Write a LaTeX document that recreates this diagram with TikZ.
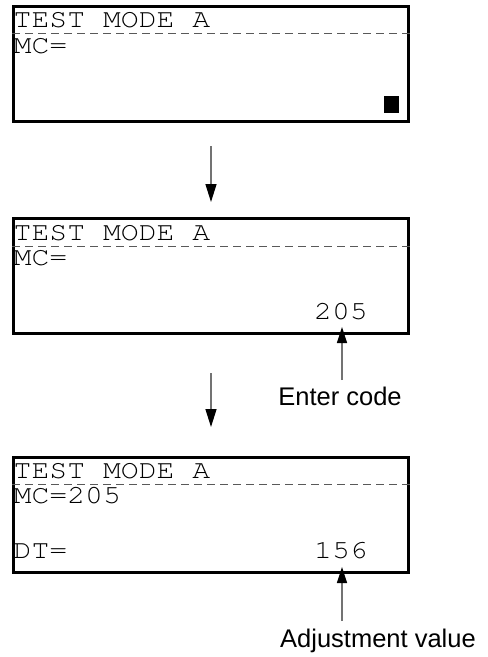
\documentclass[tikz,border=0pt]{standalone}
\usepackage[T1]{fontenc}
\usepackage{fontspec}
\setmainfont{Liberation Sans}
\usetikzlibrary{arrows.meta}
\newcommand{\lcdfnt}{\fontencoding{T1}\fontfamily{pcr}\fontseries{m}\fontshape{n}\fontsize{29.8}{30}\selectfont}
\newcommand{\lcd}[1]{\scalebox{1}[0.88]{\lcdfnt #1}}
\tikzset{
  lcdbox/.style={draw, line width=3pt, minimum width=395pt, minimum height=115pt, inner sep=0pt},
  lcdtxt/.style={inner sep=0pt},
  sep/.style={draw=black!65, line width=1pt, dash pattern=on 8pt off 5pt},
  flow/.style={draw=black!55, line width=1.4pt, -{Triangle[length=18pt,width=11pt,color=black]}},
  callout/.style={draw=black!55, line width=1.2pt, -{Triangle[length=16pt,width=10pt,color=black]}},
  lbl/.style={inner sep=0pt, font=\fontsize{25.5}{26}\selectfont}
}
\begin{document}
\begin{tikzpicture}[x=1pt,y=-1pt]
\useasboundingbox (0,0) rectangle (488,657);
% Box 1
\node[lcdbox] (b1) at (211,64) {};
\node[lcdtxt, anchor=base west] (t1) at (13.5,27.5) {\lcd{TEST MODE A}};
\draw[sep] (b1.west |- 0,33) -- (b1.east |- 0,33);
\node[lcdtxt, anchor=base west] (m1) at (13.5,53) {\lcd{MC=}};
\fill (384,96) rectangle (399,113);
% arrow 1
\coordinate (a1s) at (211,146);
\coordinate (a1e) at (211,202);
\draw[flow] (a1s) -- (a1e);
% Box 2
\node[lcdbox] (b2) at (211,276) {};
\node[lcdtxt, anchor=base west] (t2) at (13.5,240) {\lcd{TEST MODE A}};
\draw[sep] (b2.west |- 0,246) -- (b2.east |- 0,246);
\node[lcdtxt, anchor=base west] (m2) at (13.5,265.5) {\lcd{MC=}};
\node[lcdtxt, anchor=base east] (v2) at (368,319) {\lcd{205}};
\node[lbl, anchor=base] (enter) at (340,405) {Enter code};
\coordinate (c2s) at (342,380);
\coordinate (c2e) at (342,327);
\draw[callout] (c2s) -- (c2e);
% arrow 2
\coordinate (a2s) at (211,373);
\coordinate (a2e) at (211,427);
\draw[flow] (a2s) -- (a2e);
% Box 3
\node[lcdbox] (b3) at (211,515) {};
\node[lcdtxt, anchor=base west] (t3) at (13.5,478) {\lcd{TEST MODE A}};
\draw[sep] (b3.west |- 0,484) -- (b3.east |- 0,484);
\node[lcdtxt, anchor=base west] (m3) at (13.5,503.5) {\lcd{MC=205}};
\node[lcdtxt, anchor=base west] (d3) at (13.5,558) {\lcd{DT=}};
\node[lcdtxt, anchor=base east] (v3) at (368,558) {\lcd{156}};
\node[lbl, anchor=base] (adj) at (378,647) {Adjustment value};
\coordinate (c3s) at (342,621);
\coordinate (c3e) at (342,567);
\draw[callout] (c3s) -- (c3e);
\end{tikzpicture}
\end{document}
